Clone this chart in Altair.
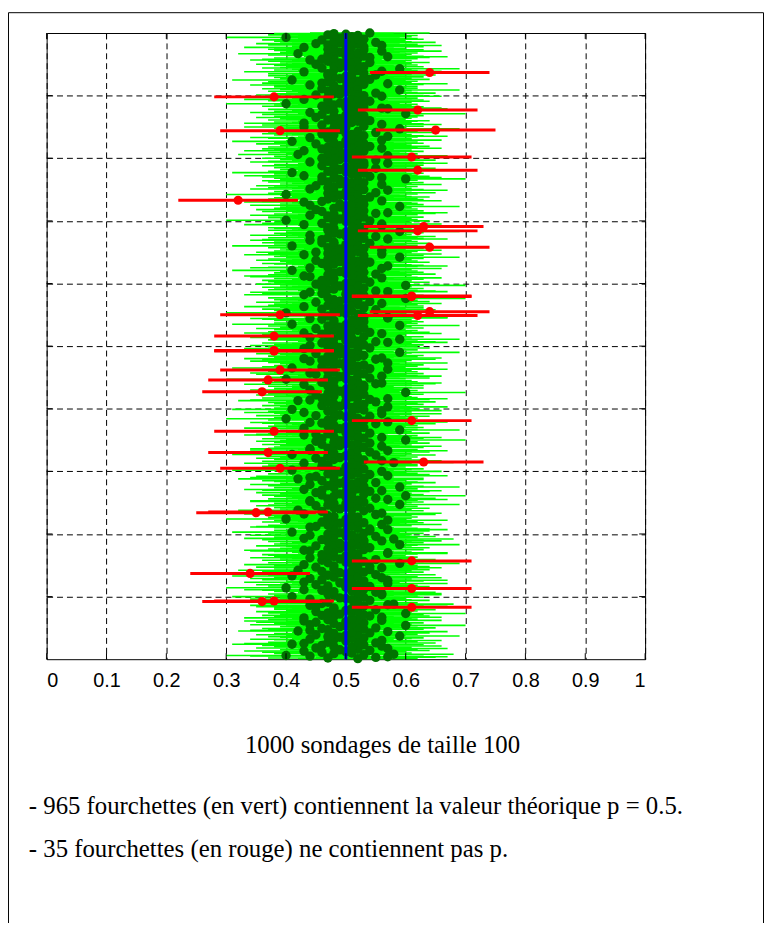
import altair as alt
import pandas as pd

# ---- data ----
taille = 100
p_theorique = 0.5
demi_largeur_pct = 10          # fourchette = f +/- 1/sqrt(100)

# polls whose interval misses p (row index from bottom, estimate in %)
red_rows = [937, 898, 877, 845, 844, 802, 781, 733, 691, 684,
            658, 580, 579, 555, 550, 549, 516, 493, 492, 462,
            446, 427, 381, 364, 330, 315, 305, 235, 234, 157,
            137, 113, 93, 92, 83]
red_pct = [64, 38, 62, 65, 39, 61, 62, 32, 63, 62,
           64, 61, 61, 64, 39, 62, 38, 38, 38, 39,
           37, 36, 61, 38, 37, 63, 39, 37, 35, 61,
           34, 61, 38, 36, 61]

# estimates (in %) of the other polls, bottom to top
green_pct_text = """
52 47 55 57 44 40 53 58 48 51 46 50 43 54 49 52 57 45 51 48
56 46 53 41 43 55 47 52 50 56 48 44 51 53 49 47 59 50 45 52
48 54 51 57 42 44 47 53 46 55 52 49 50 60 44 51 48 53 45 50
43 56 47 52 51 43 56 48 54 46 53 49 60 47 51 45 52 50 55 48
51 48 45 53 44 57 58 46 52 47 54 51 44 50 49 53 41 52 48 56
47 56 52 55 48 51 46 43 53 40 50 54 47 52 45 51 57 49 43 50
53 57 46 51 44 56 48 52 41 47 55 50 49 53 46 51 42 54 48 52
56 45 54 48 52 43 51 59 47 50 53 46 55 49 51 44 52 48 50 47
46 52 57 57 51 48 44 43 53 47 49 54 51 50 45 52 59 48 49 53
51 47 56 53 46 58 43 52 48 55 50 44 51 47 53 49 41 50 54 48
57 54 52 48 44 45 51 47 56 50 49 53 46 52 48 57 50 40 51 47
52 48 47 51 55 43 56 46 53 42 51 49 54 48 50 52 45 47 59 50
48 51 53 44 44 52 57 47 55 51 50 48 60 46 53 49 51 45 50 54
56 46 43 52 51 48 59 53 47 50 44 51 49 55 52 48 46 50 53 42
53 44 48 45 57 51 54 47 52 50 49 56 48 41 51 53 47 50 46 52
47 52 51 43 58 46 56 53 48 51 45 49 52 47 50 55 41 51 48 54
51 57 44 52 44 47 53 48 56 49 51 46 50 54 48 52 45 49 60 50
46 53 56 48 51 52 43 45 47 54 50 51 48 59 52 49 43 53 50 47
52 48 51 55 46 44 57 53 47 51 40 52 48 50 54 45 49 51 56 48
43 51 47 56 53 41 52 48 51 57 49 46 50 53 48 52 47 55 50 42
44 54 57 46 52 51 48 50 45 53 47 51 60 49 52 44 50 48 53 51
48 47 53 51 43 55 56 46 52 48 51 40 50 54 47 49 56 52 50 45
53 44 48 52 47 51 57 54 41 50 46 52 48 53 51 49 57 47 50 44
51 46 55 43 56 48 52 47 53 50 49 45 51 59 48 52 50 43 54 49
47 52 44 53 48 51 46 57 55 52 50 47 59 48 51 44 53 49 50 46
56 43 54 47 51 52 48 50 45 53 49 51 47 59 50 41 52 48 51 53
52 48 51 46 44 57 57 53 47 52 50 40 49 51 48 55 46 50 53 49
43 53 47 52 48 56 51 45 54 49 52 48 50 60 47 51 53 43 50 46
51 44 57 55 52 47 48 53 50 46 51 49 60 52 45 50 48 54 47 51
46 51 53 48 56 52 44 43 51 47 55 50 48 53 49 52 41 51 50 56
44 47 52 57 53 51 48 46 50 54 49 52 45 51 47 53 50 59 48 49
53 43 56 47 51 45 52 48 56 50 49 53 47 51 41 52 50 48 54 46
48 52 51 44 46 57 53 47 52 55 50 44 51 49 48 53 50 59 47 52
51 48 47 53 56 52 43 56 46 51 48 50 54 40 52 49 51 47 53 50
47 44 52 48 55 57 51 46 53 50 45 52 48 51 49 59 50 44 53 49
52 51 43 46 56 53 47 52 48 54 51 50 49 40 52 47 55 50 48 51
57 53 44 51 47 48 52 45 50 56 49 51 53 47 50 46 52 49 60 48
56 46 54 43 52 51 48 53 41 50 47 52 49 51 55 48 50 52 46 53
48 52 57 53 44 47 51 55 49 52 46 50 48 57 51 42 52 50 47 49
53 43 51 48 46 56 52 47 54 49 51 50 45 53 48 52 41 50 56 51
51 47 44 52 57 53 48 51 46 50 55 47 52 49 59 48 50 43 53 49
46 56 53 43 51 48 52 54 47 50 49 51 45 52 48 53 50 46 60 52
44 52 48 51 47 57 56 50 53 46 51 48 52 40 49 51 50 54 47 53
43 51 52 47 56 53 45 49 48 55 52 50 47 51 59 49 46 52 50 48
52 48 44 53 57 46 51 47 52 50 41 54 49 51 48 53 50 47 55 51
47 53 43 56 52 48 51 59 46 49 53 50 48 52 45 51 49 54 50 47
51 44 46 52 48 54 57 53 50 47 51 42 52 49 50 56 48 53 47 50
48 43 53 51 56 47 52 45 49 55 51 48 50 46 53 52 49 40 51 50
52 47 50 48 54
"""
green_pct = [int(v) for v in green_pct_text.split()]

x_ticks = [0, 0.1, 0.2, 0.3, 0.4, 0.5, 0.6, 0.7, 0.8, 0.9, 1]
y_ticks = [100, 200, 300, 400, 500, 600, 700, 800, 900]

caption_1 = "1000 sondages de taille 100"
caption_2 = "- 965 fourchettes (en vert) contiennent la valeur théorique p = 0.5."
caption_3 = "- 35 fourchettes (en rouge) ne contiennent pas p."

# ---- table ----
red_map = dict(zip(red_rows, red_pct))
n_rows = len(green_pct) + len(red_rows)
g_iter = iter(green_pct)
records = []
for r in range(1, n_rows + 1):
    pct = red_map[r] if r in red_map else next(g_iter)
    lo_pct, hi_pct = pct - demi_largeur_pct, pct + demi_largeur_pct
    records.append({
        "sondage": r,
        "f": pct / 100,
        "lo": lo_pct / 100,
        "hi": hi_pct / 100,
        "contient": lo_pct <= 100 * p_theorique <= hi_pct,
    })
df = pd.DataFrame(records)
df_green = df[df.contient]
df_red = df[~df.contient]

SERIF = "'Liberation Serif', 'Times New Roman', Times, serif"
W, H = 604, 632
x_scale = alt.Scale(domain=[0, 1], nice=False, zero=False)
y_scale = alt.Scale(domain=[0, 1000], nice=False, zero=False)
x_axis = alt.Axis(values=x_ticks, format="~g", ticks=False, domain=False,
                  grid=True, labelPadding=12, title=None,
                  labelFont="Liberation Sans", labelFontSize=20,
                  labelColor="black", gridColor="black", gridDash=[6, 4],
                  gridOpacity=1, gridWidth=1)
y_axis = alt.Axis(values=y_ticks, labels=False, ticks=False, domain=False,
                  grid=True, title=None, gridColor="black", gridDash=[6, 4],
                  gridOpacity=1, gridWidth=1)

X = lambda f: alt.X(f, scale=x_scale, axis=x_axis)
Y = lambda f: alt.Y(f, scale=y_scale, axis=y_axis)

green_lines = alt.Chart(df_green).mark_rule(color="#00ff00", strokeWidth=1.6).encode(
    x=X("lo:Q"), x2="hi:Q", y=Y("sondage:Q"))
green_dots = alt.Chart(df_green).mark_circle(color="#007300", size=90, opacity=1).encode(
    x=X("f:Q"), y=Y("sondage:Q"))
red_lines = alt.Chart(df_red).mark_rule(color="#ff0000", strokeWidth=3).encode(
    x=X("lo:Q"), x2="hi:Q", y=Y("sondage:Q"))
red_dots = alt.Chart(df_red).mark_circle(color="#ff0000", size=85, opacity=1).encode(
    x=X("f:Q"), y=Y("sondage:Q"))
blue_line = alt.Chart(pd.DataFrame({"p": [p_theorique]})).mark_rule(
    color="#0000ff", strokeWidth=3).encode(x=X("p:Q"))

xt = pd.DataFrame({"t": x_ticks})
yt = pd.DataFrame({"t": y_ticks})
tick_bottom = alt.Chart(xt).mark_rule(color="black", strokeWidth=1).encode(
    x=X("t:Q"), y=alt.value(H), y2=alt.value(H - 6))
tick_top = alt.Chart(xt).mark_rule(color="black", strokeWidth=1).encode(
    x=X("t:Q"), y=alt.value(0), y2=alt.value(6))
tick_left = alt.Chart(yt).mark_rule(color="black", strokeWidth=1).encode(
    y=Y("t:Q"), x=alt.value(0), x2=alt.value(6))
tick_right = alt.Chart(yt).mark_rule(color="black", strokeWidth=1).encode(
    y=Y("t:Q"), x=alt.value(W), x2=alt.value(W - 6))

txt1 = alt.Chart(pd.DataFrame({"texte": [caption_1]})).mark_text(
    font=SERIF, fontSize=25, align="center", baseline="middle",
    color="black").encode(text="texte:N", x=alt.value(339), y=alt.value(719))
txt2 = alt.Chart(pd.DataFrame({"texte": [caption_2]})).mark_text(
    font=SERIF, fontSize=25, align="left", baseline="middle",
    color="black").encode(text="texte:N", x=alt.value(-18), y=alt.value(780))
txt3 = alt.Chart(pd.DataFrame({"texte": [caption_3]})).mark_text(
    font=SERIF, fontSize=25, align="left", baseline="middle",
    color="black").encode(text="texte:N", x=alt.value(-18), y=alt.value(824))

cadre = alt.Chart(pd.DataFrame({"cadre": [1]})).mark_rect(
    fillOpacity=0, stroke="black", strokeWidth=1).encode(
    x=alt.value(-38.5), x2=alt.value(723.5), y=alt.value(-20.5), y2=alt.value(1200))

chart = alt.layer(
    green_lines, green_dots, red_lines, red_dots, blue_line,
    tick_bottom, tick_top, tick_left, tick_right,
    txt1, txt2, txt3, cadre,
).properties(
    width=W, height=H,
    autosize=alt.AutoSizeParams(type="none"),
    padding={"left": 39, "top": 21, "right": 120, "bottom": 262},
).configure_view(
    stroke="black", strokeWidth=1
).configure_axis(
    gridColor="black", gridDash=[6, 4], gridOpacity=1, gridWidth=1
)

chart.save("out.html", embed_options={"renderer": "svg", "actions": False})
